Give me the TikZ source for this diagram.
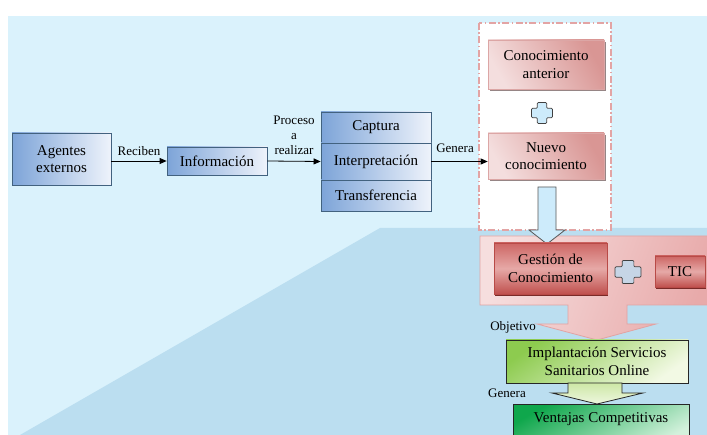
\documentclass[tikz,border=0pt]{standalone}
\usepackage{fontspec}
\setmainfont{Liberation Serif}
\usetikzlibrary{shadows,arrows.meta}
\definecolor{bgblue}{HTML}{DAF2FC}
\definecolor{floorblue}{HTML}{BBDEF0}
\definecolor{blueDark}{HTML}{7DA4D8}
\definecolor{blueLight}{HTML}{EEF3FB}
\definecolor{blueBorder}{HTML}{42627F}
\definecolor{pinkL}{HTML}{F4DEDE}
\definecolor{pinkD}{HTML}{D99694}
\definecolor{pinkBorder}{HTML}{DCA6A5}
\definecolor{redT}{HTML}{CD6664}
\definecolor{redM}{HTML}{E6A9A7}
\definecolor{redB}{HTML}{C0504D}
\definecolor{redBorder}{HTML}{B84A47}
\definecolor{redShadow}{HTML}{7A2A28}
\definecolor{callL}{HTML}{F6DEDE}
\definecolor{callR}{HTML}{E8AAAA}
\definecolor{callBorder}{HTML}{E2A3A3}
\definecolor{greenA}{HTML}{8DCB4F}
\definecolor{greenB}{HTML}{F2F9E4}
\definecolor{greenArrA}{HTML}{CDE7A6}
\definecolor{greenArrB}{HTML}{EEF7DF}
\definecolor{greenV}{HTML}{0FA74C}
\definecolor{greenVL}{HTML}{D3F1DC}
\definecolor{plusBlue}{HTML}{CDEBFB}
\definecolor{plusGray}{HTML}{C6D5E6}
\definecolor{dashPink}{HTML}{E3A4A4}
\tikzset{
  bluebox/.style={draw=blueBorder, line width=0.8pt, left color=blueDark, right color=blueLight,
    align=center, font=\fontsize{15}{17.5}\selectfont, inner sep=1pt},
  pinkbox/.style={draw=pinkBorder, line width=0.6pt, top color=pinkD, bottom color=pinkL, shading angle=-60,
    align=center, font=\fontsize{15}{17.5}\selectfont, inner sep=1pt,
    general shadow={fill=gray!75!pinkD, shadow xshift=2pt, shadow yshift=-2pt}},
  redbox/.style={draw=redBorder, line width=0.6pt, top color=redT, bottom color=redB, middle color=redM,
    align=center, font=\fontsize{15}{17.5}\selectfont, inner sep=1pt,
    general shadow={fill=redShadow, shadow xshift=1pt, shadow yshift=-2.5pt}},
  greenbox/.style={draw=black!85, line width=0.8pt, align=center, font=\fontsize{15}{17.5}\selectfont, inner sep=1pt},
  lbl/.style={font=\fontsize{13}{15}\selectfont, inner sep=0pt, align=center},
  conn/.style={draw=black, line width=0.8pt, -{Triangle[length=7pt,width=6pt]}},
  plusmark/.pic={\path[pic actions, rounded corners=1pt]
    (-4.5,-10) -- (4.5,-10) -- (4.5,-4.5) -- (10,-4.5) -- (10,4.5) -- (4.5,4.5) -- (4.5,10)
    -- (-4.5,10) -- (-4.5,4.5) -- (-10,4.5) -- (-10,-4.5) -- (-4.5,-4.5) -- cycle;}
}
\begin{document}
\begin{tikzpicture}[x=1pt,y=-1pt]
\useasboundingbox (0,0) rectangle (707,435);
\clip (0,0) rectangle (707,435);
% background
\fill[bgblue] (8,16) rectangle (707,435);
\fill[floorblue] (20,435) -- (380,228) -- (707,228) -- (707,435) -- cycle;

% left chain
\node[bluebox, minimum width=99pt, minimum height=52pt] (ag) at (61.5,159) {Agentes\\externos};
\node[bluebox, minimum width=100pt, minimum height=28pt] (inf) at (217,161) {Información};
\node[bluebox, minimum width=110pt, minimum height=31pt] (cap) at (376,127.5) {Captura};
\node[bluebox, minimum width=110pt, minimum height=37pt] (int) at (376,161.5) {Interpretación};
\node[bluebox, minimum width=110pt, minimum height=31pt] (tra) at (376,195.5) {Transferencia};

% dashed group
\draw[dashPink, fill=white, line width=1.4pt, dash pattern=on 7pt off 2.5pt on 1.5pt off 2.5pt] (479,23) rectangle (611,230);
\node[pinkbox, minimum width=116pt, minimum height=49pt] (ca) at (546,64.5) {Conocimiento\\anterior};
\pic[fill=plusBlue, draw=black!75, line width=0.7pt, scale=1.05] at (542,113) {plusmark};
\node[pinkbox, minimum width=116pt, minimum height=46pt] (nc) at (546,156) {Nuevo\\conocimiento};

% connectors
\draw[conn] (ag.east |- inf.west) -- (inf.west) node[lbl, midway, above=5pt] {Reciben};
\draw[conn] (inf.east) -- (int.west) node[lbl, midway, above=6pt] {Proceso\\a\\realizar};
\draw[conn] (int.east) -- (int.east -| nc.west) node[lbl, pos=0.42, above=8pt] {Genera};

% pink callout
\draw[callBorder, line width=0.8pt, left color=callL, right color=callR, shading angle=70]
  (480,236) -- (712,236) -- (712,305) -- (627,305) -- (627,324) -- (656,324) -- (597,340)
  -- (537,324) -- (568,324) -- (568,305) -- (480,305) -- cycle;

% down arrow from dashed group
\draw[draw=black!65, fill=plusBlue, line width=0.8pt]
  (538,187) -- (556,187) -- (556,230) -- (565,230) -- (547,244) -- (529,230) -- (538,230) -- cycle;

\node[redbox, minimum width=113pt, minimum height=51pt] (gc) at (550.5,268.5) {Gestión de\\Conocimiento};
\pic[fill=plusGray, draw=black!75, line width=0.7pt, xscale=1.3, yscale=1.15] at (628,272) {plusmark};
\node[redbox, minimum width=50pt, minimum height=31pt] (tic) at (680,271.5) {TIC};

\node[lbl] (obj) at (513,327) {Objetivo};

% green
\node[greenbox, top color=greenA, bottom color=greenB, shading angle=35, minimum width=182pt, minimum height=43pt] (imp) at (597,361.5) {Implantación Servicios\\Sanitarios Online};
\draw[draw=black!85, line width=0.8pt, top color=greenArrA, bottom color=greenArrB]
  (568,383) -- (622,383) -- (622,393) -- (643,393) -- (597,404) -- (552,393) -- (568,393) -- cycle;
\node[lbl] (gen2) at (507,393) {Genera};
\node[greenbox, top color=greenV, bottom color=greenVL, shading angle=30, minimum width=176pt, minimum height=41pt, anchor=north, text depth=14pt] (ven) at (601,404) {Ventajas Competitivas};
\end{tikzpicture}
\end{document}
